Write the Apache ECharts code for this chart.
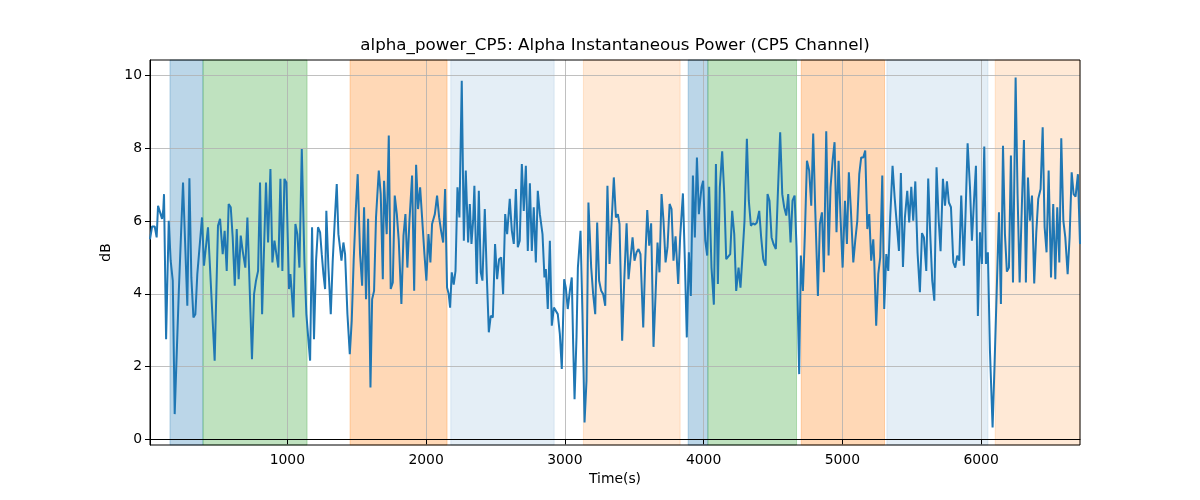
<!DOCTYPE html>
<html><head><meta charset="utf-8">
<script src="https://cdn.jsdelivr.net/npm/echarts@6/dist/echarts.min.js"></script>
<style>html,body{margin:0;padding:0;background:#fff}#c{width:1200px;height:500px}</style>
</head><body><div id="c"></div>
<script>
const chartTitle = 'alpha_power_CP5: Alpha Instantaneous Power (CP5 Channel)';
const xName = 'Time(s)';
const yName = 'dB';
const xTicks = [1000, 2000, 3000, 4000, 5000, 6000];
const yTicks = [0, 2, 4, 6, 8, 10];
const yRange = [-0.16, 10.43];

// [time (s), power (dB)]
const alphaPower = [
[10,5.50],[25,5.85],[44,5.85],[58,5.55],[68,6.42],[82,6.47],[97,6.06],[106,6.33],[111,6.74],[126,2.75],[145,6.01],[159,4.91],[174,4.36],[188,0.69],[217,3.99],[248,7.06],[279,3.67],[294,7.18],[308,4.45],[323,3.35],[337,3.44],[351,4.54],[371,5.46],[385,6.10],[399,4.77],[428,5.83],[476,2.16],[500,5.87],[515,6.06],[534,5.09],[548,5.73],[563,4.63],[577,6.47],[592,6.38],[606,5.55],[621,4.22],[635,5.78],[649,4.40],[664,5.60],[678,5.18],[697,4.72],[712,6.10],[745,2.20],[760,3.99],[774,4.36],[789,4.63],[803,7.06],[818,3.44],[846,7.06],[861,5.41],
[878,7.43],[892,4.86],[907,5.46],[921,5.50],[935,4.72],[950,7.16],[964,4.63],[979,7.16],[993,7.06],[1012,4.13],[1022,4.54],[1031,4.08],[1044,3.35],[1058,5.92],[1072,5.64],[1087,4.72],[1104,7.98],[1123,4.91],[1137,3.44],[1152,2.71],[1164,2.16],[1178,5.83],[1192,2.75],[1207,4.91],[1221,5.83],[1236,5.69],[1248,5.09],[1260,4.54],[1272,4.13],[1281,6.28],[1296,4.72],[1313,3.44],[1327,4.91],[1344,6.19],[1356,7.02],[1368,5.64],[1378,5.32],[1390,4.91],[1404,5.41],[1416,5.09],[1433,3.44],[1450,2.34],[1464,3.26],[1478,4.91],[1493,6.28],[1507,7.29],[1524,5.09],[1539,4.22],[1553,6.38],[1567,3.85],[1582,6.06],[1599,1.42],[1611,3.85],[1625,4.08],[1639,6.10],[1659,7.39],[1673,6.74],[1688,4.40],[1697,7.11],
[1716,5.64],[1731,8.35],[1745,4.13],[1760,4.31],[1774,6.70],[1789,6.19],[1803,5.46],[1822,3.72],[1837,5.60],[1851,6.19],[1865,4.72],[1880,6.01],[1899,7.25],[1914,4.08],[1928,7.55],[1942,6.33],[1957,6.93],[1971,6.10],[1988,5.09],[2002,4.36],[2017,5.64],[2031,4.86],[2043,5.92],[2063,6.19],[2079,6.70],[2094,6.10],[2108,5.73],[2123,5.41],[2137,6.88],[2151,4.17],[2163,3.99],[2173,3.62],[2185,4.59],[2199,4.25],[2212,4.63],[2226,6.93],[2240,6.10],[2257,9.86],[2272,5.46],[2286,7.39],[2303,5.41],[2315,6.47],[2327,5.37],[2339,6.01],[2348,6.97],[2365,4.27],[2380,6.83],[2394,4.59],[2406,4.36],[2423,6.33],[2437,4.54],[2452,2.94],[2466,3.39],[2481,3.35],[2497,5.37],[2512,4.40],[2526,4.95],[2541,5.00],
[2555,3.99],[2570,6.19],[2584,5.64],[2603,6.61],[2618,5.73],[2632,5.37],[2647,6.88],[2661,5.28],[2675,5.46],[2690,7.57],[2704,6.28],[2719,7.52],[2733,5.18],[2748,7.04],[2762,5.18],[2776,6.38],[2791,4.86],[2805,6.83],[2820,6.19],[2839,5.64],[2853,4.45],[2863,4.68],[2877,3.58],[2892,5.46],[2906,3.12],[2921,3.62],[2935,3.67],[2949,3.44],[2964,2.89],[2978,1.93],[2995,4.40],[3007,4.17],[3021,3.58],[3036,4.08],[3050,4.45],[3060,2.61],[3070,1.10],[3084,2.80],[3094,4.72],[3113,5.73],[3127,3.44],[3142,0.46],[3156,1.61],[3170,6.51],[3190,4.72],[3204,3.99],[3219,3.44],[3233,5.96],[3247,4.36],[3262,4.08],[3276,3.99],[3291,3.67],[3307,6.97],[3322,4.82],[3336,4.80],[3353,7.20],[3368,6.10],[3382,6.19],
[3394,5.92],[3413,2.71],[3428,4.36],[3445,5.94],[3459,4.40],[3473,4.45],[3488,5.55],[3502,4.91],[3517,5.14],[3531,5.23],[3545,5.09],[3565,3.07],[3579,4.86],[3594,6.30],[3608,5.32],[3622,5.94],[3639,2.54],[3654,3.99],[3668,5.41],[3682,4.59],[3697,6.74],[3711,6.01],[3726,4.86],[3740,5.28],[3755,6.47],[3769,6.33],[3783,4.91],[3798,5.58],[3817,4.27],[3831,5.55],[3851,6.76],[3865,4.91],[3879,2.80],[3894,5.14],[3908,3.94],[3923,7.25],[3937,5.55],[3952,7.75],[3966,6.19],[3985,6.93],[3997,7.11],[4012,5.46],[4026,5.05],[4040,6.94],[4057,4.72],[4074,3.70],[4089,7.57],[4103,4.27],[4117,6.93],[4134,7.92],[4149,6.74],[4163,4.95],[4177,5.00],[4192,5.09],[4206,6.28],[4221,5.64],[4235,4.08],
[4252,4.72],[4266,4.17],[4281,5.09],[4295,6.01],[4312,8.26],[4326,6.56],[4341,5.87],[4355,5.94],[4370,5.90],[4384,5.96],[4401,6.28],[4415,5.55],[4430,4.95],[4447,4.77],[4461,6.74],[4475,6.56],[4490,5.55],[4504,5.37],[4521,5.23],[4536,6.83],[4552,8.44],[4567,6.74],[4581,6.38],[4596,6.15],[4610,6.74],[4627,5.41],[4641,6.56],[4656,6.70],[4670,5.28],[4689,1.79],[4701,5.05],[4716,4.08],[4730,5.64],[4745,7.66],[4761,7.39],[4776,6.42],[4790,8.41],[4805,6.28],[4824,3.94],[4838,5.92],[4853,6.24],[4867,4.59],[4884,8.47],[4901,5.05],[4915,6.93],[4930,7.66],[4944,8.17],[4958,5.69],[4973,7.66],[4987,6.10],[5002,4.72],[5019,6.56],[5033,5.37],[5047,7.34],[5062,6.28],[5079,4.86],
[5093,5.46],[5108,6.01],[5122,7.29],[5136,7.75],[5151,7.75],[5165,7.94],[5180,5.78],[5194,6.19],[5208,4.91],[5223,5.50],[5230,4.91],[5244,3.12],[5259,4.54],[5273,5.00],[5288,7.25],[5302,3.58],[5317,5.09],[5331,4.63],[5345,6.10],[5362,7.52],[5377,6.65],[5391,6.61],[5408,5.18],[5422,7.32],[5437,4.74],[5451,6.10],[5468,6.83],[5482,5.96],[5497,6.94],[5511,6.01],[5526,7.09],[5542,5.14],[5559,4.04],[5574,5.67],[5588,5.55],[5605,4.63],[5619,7.17],[5634,5.60],[5648,4.36],[5663,3.81],[5679,7.48],[5694,6.06],[5708,5.17],[5725,7.16],[5740,6.42],[5754,7.09],[5768,6.51],[5783,6.38],[5800,4.86],[5814,4.72],[5828,5.05],[5843,4.91],[5857,6.70],[5876,4.77],[5888,6.19],[5903,8.14],
[5920,6.93],[5934,5.46],[5949,6.56],[5963,7.52],[5977,3.39],[5992,5.69],[6006,4.82],[6023,8.05],[6035,4.82],[6049,5.14],[6064,2.43],[6083,0.32],[6098,2.16],[6112,3.99],[6129,6.24],[6143,3.72],[6158,8.07],[6172,5.64],[6186,4.61],[6201,4.72],[6215,7.80],[6230,4.31],[6249,9.95],[6263,6.74],[6278,4.31],[6295,6.56],[6309,8.23],[6323,4.31],[6338,7.20],[6352,6.01],[6367,6.70],[6383,4.28],[6398,5.69],[6412,6.61],[6429,6.88],[6444,8.58],[6458,5.83],[6472,5.14],[6487,7.39],[6504,4.45],[6520,6.47],[6535,4.40],[6549,6.38],[6564,4.86],[6578,8.28],[6593,6.01],[6607,5.55],[6624,4.54],[6638,5.55],[6653,7.34],[6667,6.74],[6681,6.67],[6698,7.29],[6713,5.37]
];

// shaded periods: [start, end, kind]
const spanStarts = [154, 392, 1452, 2178, 3134, 3889, 4031, 4704, 5321, 6102];
const spanEnds   = [392, 1142, 2151, 2923, 3831, 4031, 4670, 5304, 6050, 6713];
const spanKinds  = [0, 1, 2, 3, 4, 0, 1, 2, 3, 4];
const spanFills = ['rgba(31,119,180,0.3)', 'rgba(44,160,44,0.3)', 'rgba(255,127,14,0.3)', 'rgba(31,119,180,0.12)', 'rgba(255,127,14,0.17)'];

const FONT = 'DejaVu Sans';
const xMin = alphaPower[0][0], xMax = alphaPower[alphaPower.length - 1][0];
const spanData = spanStarts.map((s, i) => [s, spanEnds[i], spanKinds[i]]);

const chart = echarts.init(document.getElementById('c'), null, {renderer: 'canvas'});
chart.setOption({
  animation: false,
  backgroundColor: '#fff',
  grid: {left: 150, right: 120, top: 60, bottom: 55, show: true, borderColor: '#000', borderWidth: 1, backgroundColor: 'transparent', z: 4},
  graphic: [{type: 'text', x: 615, y: 46, z: 10, style: {text: chartTitle, fill: '#000', font: '16.7px "DejaVu Sans"', textAlign: 'center', textVerticalAlign: 'middle'}}],
  xAxis: {
    type: 'value', min: xMin, max: xMax, z: 3,
    name: xName, nameLocation: 'middle', nameGap: 27,
    nameTextStyle: {fontFamily: FONT, fontSize: 13.9, color: '#000'},
    axisLine: {show: true, lineStyle: {color: '#000', width: 1}},
    axisTick: {show: true, length: 5, lineStyle: {color: '#000'}, customValues: xTicks},
    axisLabel: {fontFamily: FONT, fontSize: 13.9, color: '#000', margin: 8, customValues: xTicks, formatter: v => String(v)},
    splitLine: {show: true, lineStyle: {color: '#b0b0b0', width: 0.8}}
  },
  yAxis: {
    type: 'value', min: yRange[0], max: yRange[1], z: 3,
    name: yName, nameLocation: 'middle', nameGap: 34, nameRotate: 90,
    nameTextStyle: {fontFamily: FONT, fontSize: 13.9, color: '#000'},
    axisLine: {show: true, lineStyle: {color: '#000', width: 1}},
    axisTick: {show: true, length: 5, lineStyle: {color: '#000'}, customValues: yTicks},
    axisLabel: {fontFamily: FONT, fontSize: 13.9, color: '#000', margin: 8, customValues: yTicks, formatter: v => String(v)},
    splitLine: {show: true, lineStyle: {color: '#b0b0b0', width: 0.8}}
  },
  series: [
    {
      type: 'custom', z: 1, silent: true,
      data: spanData,
      encode: {x: [0, 1]},
      renderItem: function (params, api) {
        const cs = params.coordSys;
        const x0 = api.coord([api.value(0), yRange[0]])[0];
        const x1 = api.coord([api.value(1), yRange[0]])[0];
        const fill = spanFills[api.value(2)];
        return {type: 'rect', shape: {x: x0, y: cs.y, width: x1 - x0, height: cs.height},
                style: {fill: fill, stroke: fill, lineWidth: 1}};
      }
    },
    {
      type: 'line', z: 5, data: alphaPower, showSymbol: false, symbol: 'none',
      lineStyle: {color: '#1f77b4', width: 2}, itemStyle: {color: '#1f77b4'}
    }
  ]
});
</script></body></html>
